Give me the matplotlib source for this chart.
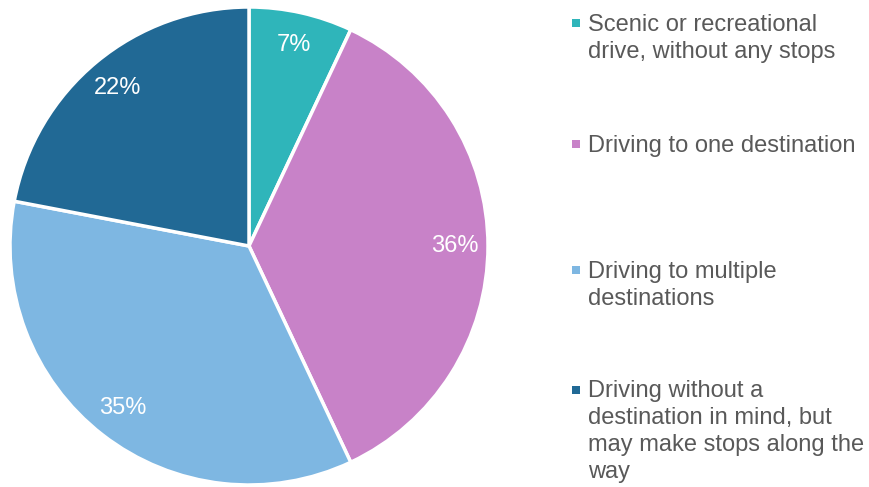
import numpy as np
import matplotlib.pyplot as plt

plt.rcParams['font.family'] = ['Liberation Sans', 'DejaVu Sans']

# --- Datos ---
labels = [
    "Scenic or recreational\ndrive, without any stops",
    "Driving to one destination",
    "Driving to multiple\ndestinations",
    "Driving without a\ndestination in mind, but\nmay make stops along the\nway",
]
shares = [7, 36, 35, 22]
colors = ['#2fb5ba', '#c882c8', '#7eb7e2', '#216995']

# --- Figura ---
W, H = 869, 487
fig = plt.figure(figsize=(W / 100, H / 100), dpi=100)

# pie centrado en (249, 246) px con radio ~239 px
cx, cy, r = 249, 246, 239
ax = fig.add_axes([(cx - r) / W, (H - cy - r) / H, 2 * r / W, 2 * r / H])
wedges, _, autotexts = ax.pie(
    shares, colors=colors, startangle=90, counterclock=False,
    autopct=lambda p: f'{p:.0f}%', pctdistance=0.86,
    wedgeprops=dict(edgecolor='white', linewidth=2.5),
    textprops=dict(color='white', fontsize=17),
)
ax.set_xlim(-1, 1)
ax.set_ylim(-1, 1)
ax.set_aspect('equal')

# --- Leyenda a la derecha ---
lg = fig.add_axes([0, 0, 1, 1])
lg.set_xlim(0, W)
lg.set_ylim(H, 0)
lg.axis('off')

step = 26.7  # px entre líneas
baselines = [31, 152, 278, 398]
for lab, col, yb in zip(labels, colors, baselines):
    nl = lab.count('\n')
    lg.scatter([576], [yb - 8], marker='s', s=30, color=col, linewidths=0)
    # va='baseline' toma la última línea
    lg.text(588, yb + nl * step, lab, fontsize=17, color='#595959',
            va='baseline', ha='left', linespacing=1.305)

fig.savefig('out.png', dpi=100)
